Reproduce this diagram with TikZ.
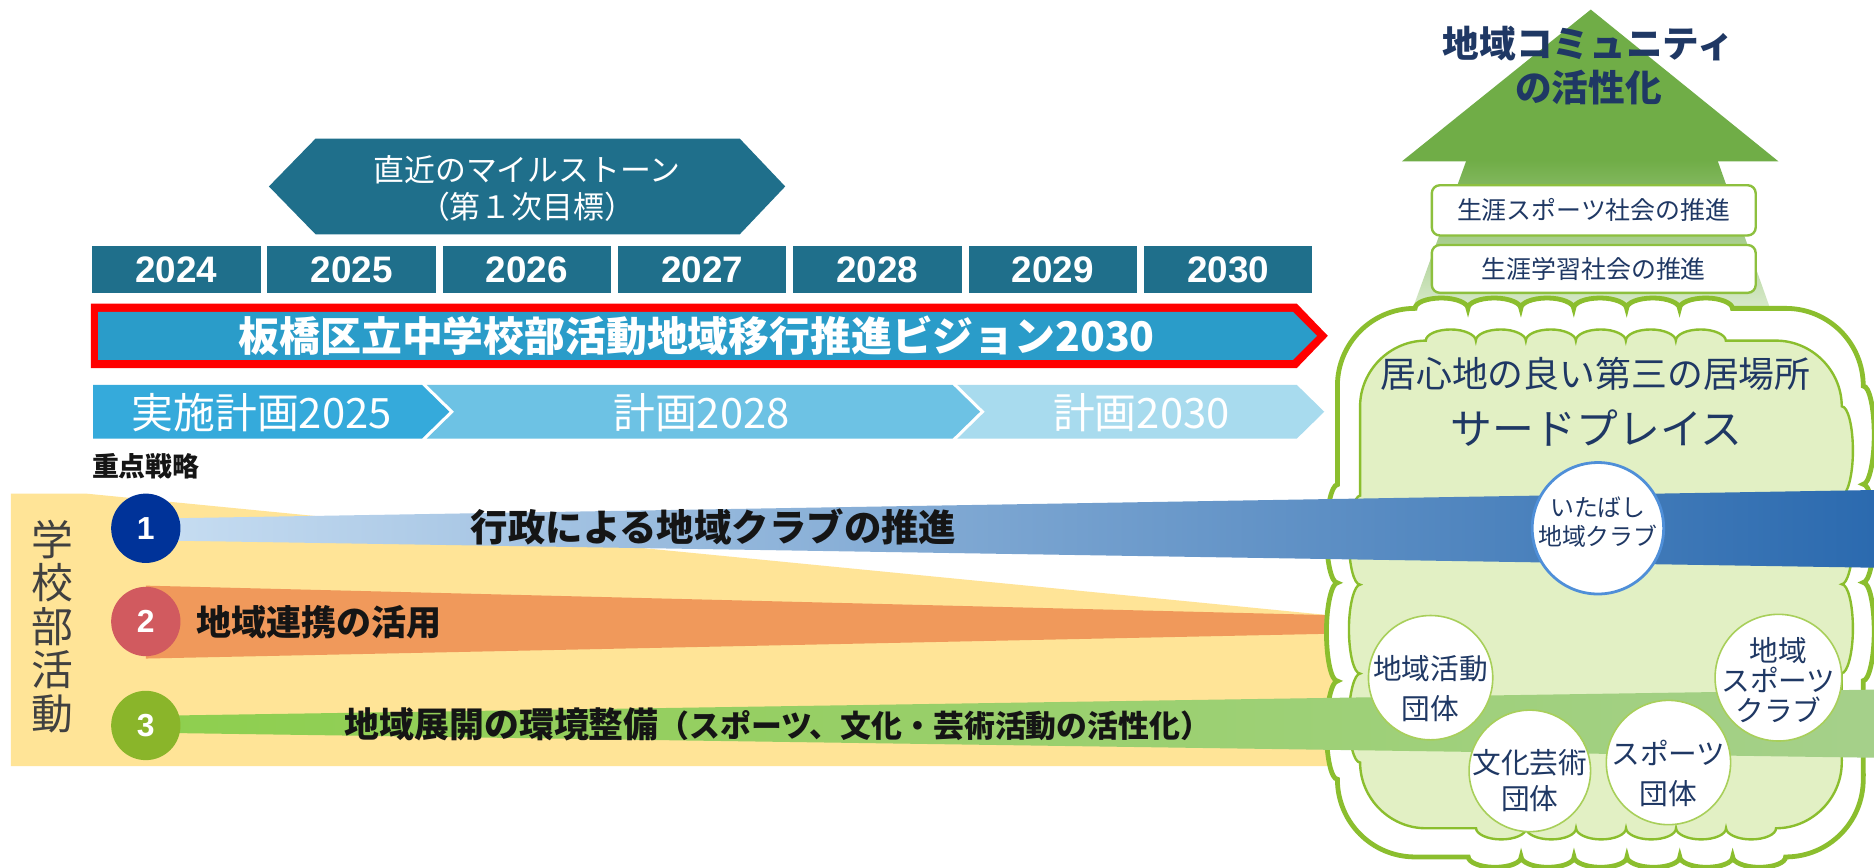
\documentclass[tikz,border=0pt]{standalone}
\usepackage{fontspec}
\setmainfont{Noto Sans CJK JP}
\newfontfamily\latf{Liberation Sans}
\usetikzlibrary{decorations.pathmorphing}
\definecolor{teal1}{HTML}{1F6F8B}
\definecolor{vblue}{HTML}{2A9CC9}
\definecolor{pone}{HTML}{35AADB}
\definecolor{ptwo}{HTML}{6DC2E4}
\definecolor{pthree}{HTML}{A8DBEE}
\definecolor{yel}{HTML}{FFE497}
\definecolor{orng}{HTML}{F0995B}
\definecolor{bbl}{HTML}{C8DEF2}
\definecolor{bbm}{HTML}{7CA8D6}
\definecolor{bbr}{HTML}{2B6AAF}
\definecolor{gbl}{HTML}{8ECF4E}
\definecolor{gbr}{HTML}{A5D08A}
\definecolor{cone}{HTML}{003399}
\definecolor{ctwo}{HTML}{D15A5F}
\definecolor{cthree}{HTML}{8AB52A}
\definecolor{navy}{HTML}{1F3864}
\definecolor{cloudfill}{HTML}{E2F0C4}
\definecolor{cloudline}{HTML}{8BBE2E}
\definecolor{boxline}{HTML}{8DC03E}
\definecolor{agreen}{HTML}{70AD47}
\definecolor{agreenl}{HTML}{E4F1DA}
\definecolor{cblue}{HTML}{4F8FD8}
\definecolor{cgreen}{HTML}{A8CF5A}
\definecolor{dtext}{HTML}{151515}
\newcommand\fsz[2]{\fontsize{#1}{#2}\selectfont}
\begin{document}
\begin{tikzpicture}[x=0.6pt,y=-0.6pt,
  yearbox/.style={fill=teal1, minimum width=84.6pt, minimum height=23.4pt, inner sep=0pt, text=white, font=\latf\bfseries\fsz{18.5pt}{18.5pt}},
  plantext/.style={text=white, inner sep=0pt, font=\fsz{21pt}{21pt}},
  numc/.style={circle, minimum size=34.8pt, inner sep=0pt, text=white, font=\latf\bfseries\fsz{16pt}{16pt}},
  bandtext/.style={text=dtext, inner sep=0pt, font=\bfseries\fsz{18pt}{18pt}},
  sbox/.style={fill=white, draw=boxline, line width=1.2pt, rounded corners=4pt, minimum width=162.6pt, inner sep=0pt, text=navy, font=\fsz{12.5pt}{12.5pt}},
  ccirc/.style={circle, fill=white, draw=cgreen, line width=0.8pt, inner sep=0pt, minimum size=62.4pt},
  ctext/.style={text=navy, align=center, inner sep=0pt},
  otop/.style={decoration={bumps, segment length=53.1pt, amplitude=5.2pt}},
  oside/.style={decoration={bumps, segment length=98.6pt, amplitude=5.5pt}},
  itop/.style={decoration={bumps, segment length=50.2pt, amplitude=5.6pt}},
  iside/.style={decoration={bumps, segment length=89.3pt, amplitude=5.6pt}}
]
\useasboundingbox (0,0) rectangle (1568,726);
\fill[white] (0,0) rectangle (1568,726);

% milestone
\fill[teal1] (225,156) -- (264,116) -- (619,116) -- (657,156) -- (619,196) -- (264,196) -- cycle;
\node[text=white, align=center, inner sep=0pt, font=\fsz{15.5pt}{18.6pt}] (ms) at (441,158) {直近のマイルストーン\\（第１次目標）};

% years
\foreach \i/\yr in {0/2024,1/2025,2/2026,3/2027,4/2028,5/2029,6/2030}{
  \node[yearbox] (y\yr) at ({147.5+146.67*\i},225.5) {\yr};
}

% vision arrow
\fill[red] (76,254) -- (1085,254) -- (1111,281) -- (1085,308) -- (76,308) -- cycle;
\fill[vblue] (82,261) -- (1082,261) -- (1102,281) -- (1082,301) -- (82,301) -- cycle;
\node[text=white, inner sep=0pt, font=\bfseries\fsz{20.5pt}{20.5pt}] (vision) at (583,281) {板橋区立中学校部活動地域移行推進ビジョン2030};

% plans
\fill[pone] (78,322) -- (353,322) -- (376,344.5) -- (353,367) -- (78,367) -- cycle;
\fill[ptwo] (357,322) -- (797,322) -- (820,344.5) -- (797,367) -- (357,367) -- (380,344.5) -- cycle;
\fill[pthree] (801,322) -- (1085,322) -- (1108,344.5) -- (1085,367) -- (801,367) -- (824,344.5) -- cycle;
\node[plantext] (plan1) at (219,345) {実施計画2025};
\node[plantext] (plan2) at (587,345) {計画2028};
\node[plantext] (plan3) at (955,345) {計画2030};

\node[inner sep=0pt, text=dtext, font=\bfseries\fsz{13.5pt}{13.5pt}] (jp) at (122,390) {重点戦略};

% yellow region and orange band
\fill[yel] (9,413) -- (72,413) -- (1125,516) -- (1125,641) -- (9,641) -- cycle;
\fill[orng] (122,490) -- (1125,515) -- (1125,530) -- (122,551) -- cycle;

\node[align=center, inner sep=0pt, text=black!75, font=\fsz{21pt}{21.8pt}] (school) at (44,524) {学\\校\\部\\活\\動};

% upward arrow
\fill[agreen] (1331,8) -- (1488,135) -- (1173,135) -- cycle;
\shade[top color=agreen, middle color=agreen, bottom color=agreenl] (1227,134) -- (1437,134) -- (1486,272) -- (1177,272) -- cycle;
\node[align=center, inner sep=0pt, text=navy, font=\bfseries\fsz{18.4pt}{22.2pt}] (comm) at (1329,55) {地域コミュニティ\\の活性化};
\node[sbox, minimum height=25.2pt] (box1) at (1333.5,176) {生涯スポーツ社会の推進};
\node[sbox, minimum height=24pt] (box2) at (1333.5,225) {生涯学習社会の推進};

% cloud (outer)
\path[fill=white, draw=cloudline, line width=2.4pt]
 (1184,258) decorate[otop]{-- (1494,258)} .. controls (1530,258) and (1559,287) .. (1559,323)
 decorate[oside]{-- (1559,652)} .. controls (1559,688) and (1530,717) .. (1494,717)
 decorate[otop]{-- (1184,717)} .. controls (1148,717) and (1119,688) .. (1119,652)
 decorate[oside]{-- (1119,323)} .. controls (1119,287) and (1148,258) .. (1184,258) -- cycle;
% cloud (inner)
\path[fill=cloudfill, draw=cloudline, line width=1.2pt]
 (1193,285) decorate[itop]{-- (1486,285)} .. controls (1516,285) and (1541,310) .. (1541,340)
 decorate[iside]{-- (1541,638)} .. controls (1541,668) and (1516,693) .. (1486,693)
 decorate[itop]{-- (1193,693)} .. controls (1163,693) and (1138,668) .. (1138,638)
 decorate[iside]{-- (1138,340)} .. controls (1138,310) and (1163,285) .. (1193,285) -- cycle;

% blue and green bands
\shade[left color=bbl, middle color=bbm, right color=bbr] (122,434) -- (1568,410) -- (1568,475) -- (122,452) -- cycle;
\shade[left color=gbl, right color=gbr] (122,599) -- (1568,577) -- (1568,634) -- (122,613) -- cycle;

% strategy circles
\node[numc, fill=cone] (n1) at (122,442) {1};
\node[numc, fill=ctwo] (n2) at (122,520) {2};
\node[numc, fill=cthree] (n3) at (122,607) {3};

\node[bandtext, font=\bfseries\fsz{18.8pt}{18.8pt}] (s1) at (597,441) {行政による地域クラブの推進};
\node[bandtext, font=\bfseries\fsz{17.6pt}{17.6pt}] (s2) at (267,521) {地域連携の活用};
\node[bandtext, font=\bfseries\fsz{17.5pt}{17.5pt}] (s3) at (651,606) {地域展開の環境整備{\fsz{15.5pt}{15.5pt}（スポーツ、文化・芸術活動の活性化）}};

% cloud texts
\node[text=navy, inner sep=0pt, font=\fsz{18pt}{18pt}] (third) at (1335,313) {居心地の良い第三の居場所};
\node[text=navy, inner sep=0pt, font=\fsz{21pt}{21pt}] (tplace) at (1336,358) {サードプレイス};

% cloud circles
\node[ccirc, draw=cblue, line width=1.4pt, minimum size=66pt] (ita) at (1337,442) {};
\node[ctext, font=\fsz{12pt}{14.4pt}] (itat) at (1337,437) {いたばし\\地域クラブ};
\node[ccirc] (kat) at (1197,567) {};
\node[ctext, font=\fsz{14.4pt}{19.8pt}] (katt) at (1197,576) {地域活動\\団体};
\node[ccirc, minimum size=61pt] (bun) at (1280,645) {};
\node[ctext, font=\fsz{14.4pt}{18pt}] (bunt) at (1280,653) {文化芸術\\団体};
\node[ccirc] (spo) at (1396,638) {};
\node[ctext, font=\fsz{14.4pt}{19.8pt}] (spot) at (1396,647) {スポーツ\\団体};
\node[ccirc, minimum size=63.6pt] (chi) at (1488,567) {};
\node[ctext, font=\fsz{14.4pt}{15pt}] (chit) at (1488,569) {地域\\スポーツ\\クラブ};
\end{tikzpicture}
\end{document}
